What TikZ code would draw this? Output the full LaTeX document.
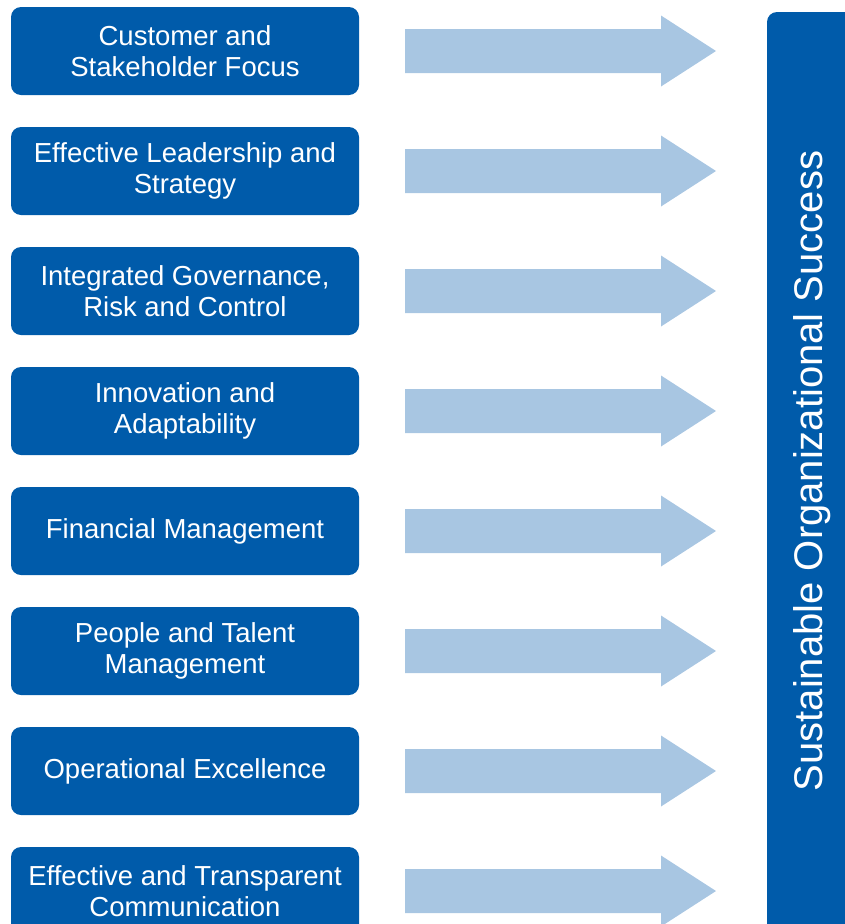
\documentclass[tikz,border=0pt]{standalone}
\usepackage{fontspec}
\setmainfont{Liberation Sans}
\definecolor{darkblue}{RGB}{0,91,170}
\definecolor{paleblue}{RGB}{168,198,226}
\begin{document}
\begin{tikzpicture}[x=1pt,y=-1pt,
  pillar/.style={fill=darkblue, rounded corners=10pt, minimum width=348pt,
    minimum height=88pt, inner sep=0pt, align=center, text=white,
    font=\fontsize{27.5}{31.5}\selectfont},
  blockarrow/.style={fill=paleblue},
  goaltext/.style={text=white, rotate=90, anchor=base, inner sep=0pt,
    font=\fontsize{40}{44}\selectfont}]
\useasboundingbox (0,0) rectangle (845,924);
\clip (0,0) rectangle (845,924);

% result bar on the right
\fill[darkblue, rounded corners=10pt] (767,12) rectangle (900,1000);
\node[goaltext] (goal) at (822.5,471) {Sustainable Organizational Success};

% pillars with their arrows
\foreach \label [count=\i from 0] in {
  {Customer and\\Stakeholder Focus},
  {Effective Leadership and\\Strategy},
  {Integrated Governance,\\Risk and Control},
  {Innovation and\\Adaptability},
  {Financial Management},
  {People and Talent\\Management},
  {Operational Excellence},
  {Effective and Transparent\\Communication}}
{
  \pgfmathsetmacro{\cy}{51+120*\i}
  \node[pillar] (p\i) at (185,\cy) {\label};
  \coordinate (tip\i) at (716,\cy);
  \fill[blockarrow] (405,\cy-22) -- (661,\cy-22) -- (661,\cy-35.5)
    -- (tip\i) -- (661,\cy+35.5) -- (661,\cy+22) -- (405,\cy+22) -- cycle;
}
\end{tikzpicture}
\end{document}
